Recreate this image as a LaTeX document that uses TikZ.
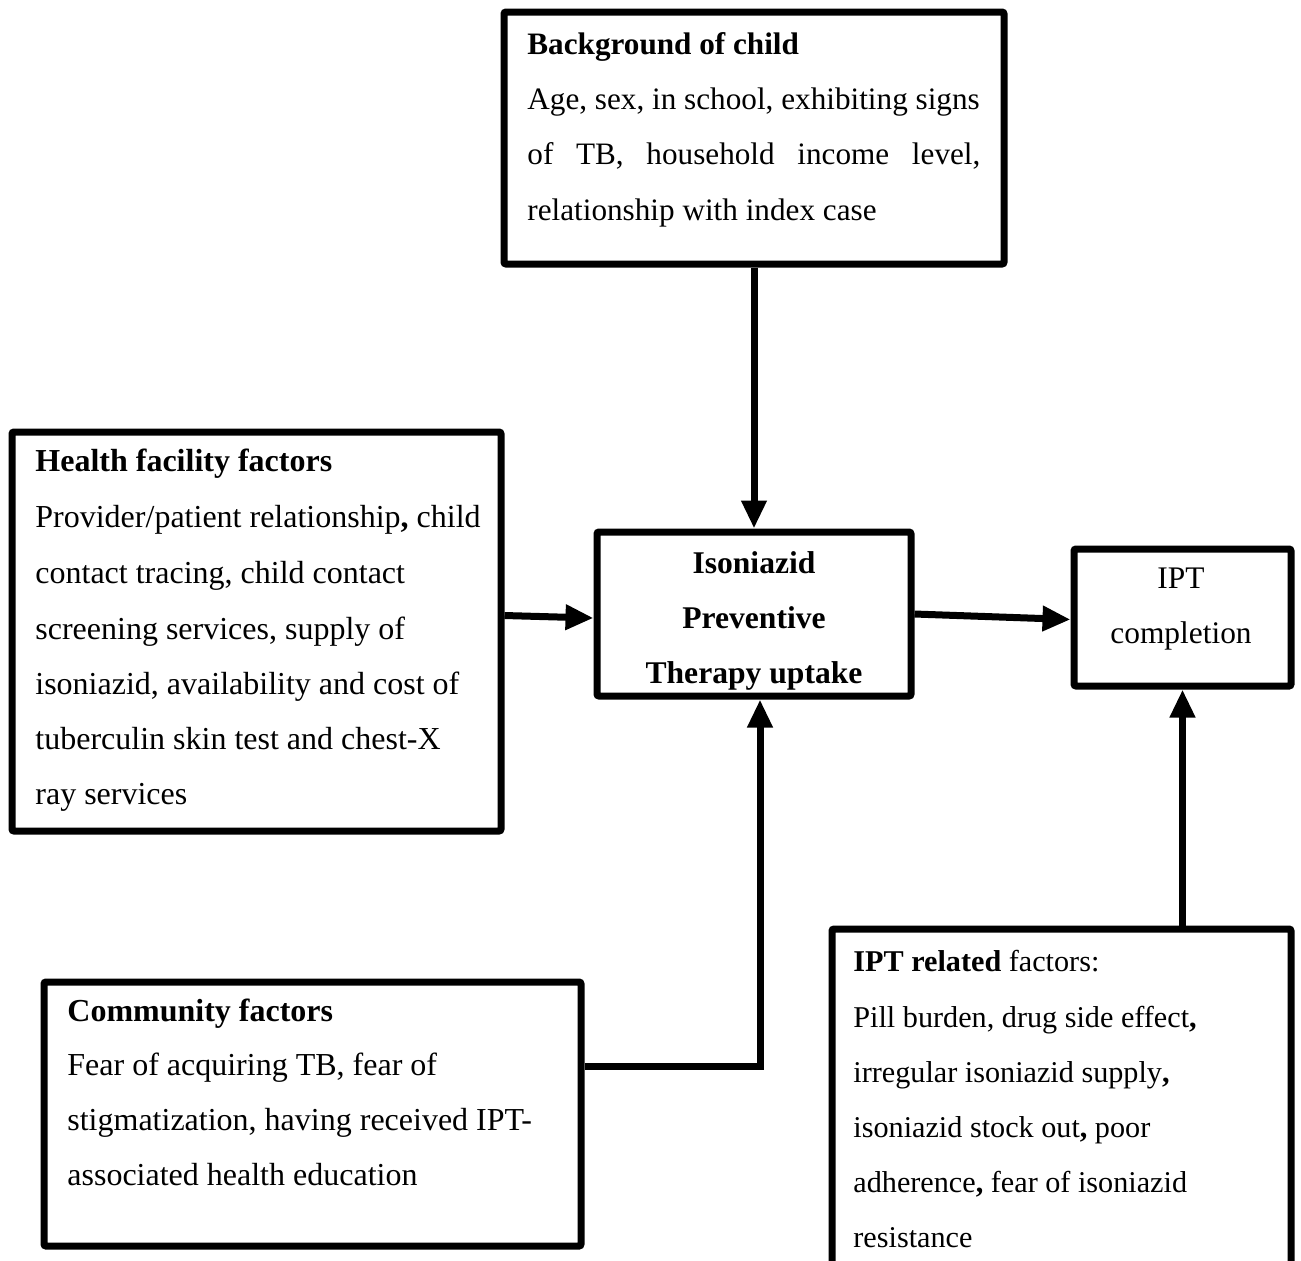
\documentclass[tikz,border=0pt]{standalone}
\usepackage{fontspec}
\setmainfont{Liberation Serif}
\usetikzlibrary{arrows.meta,calc}
\begin{document}
\begin{tikzpicture}[x=0.5pt,y=-0.5pt,
  box/.style={draw=black,line width=3.5pt,rectangle,inner sep=0pt,rounded corners=1pt,fill=white},
  txt/.style={inner sep=0pt,anchor=base west},
  ctxt/.style={inner sep=0pt,anchor=base},
  fbg/.style={font=\fontsize{15.6}{18}\selectfont},
  fhf/.style={font=\fontsize{16}{18}\selectfont},
  fup/.style={font=\fontsize{15.8}{18}\selectfont},
  fco/.style={font=\fontsize{15.7}{18}\selectfont},
  fcm/.style={font=\fontsize{16}{18}\selectfont},
  fir/.style={font=\fontsize{15.1}{18}\selectfont},
  arr/.style={line width=3.5pt,-{Triangle[length=14pt,width=12pt]}}]
\useasboundingbox (0,0) rectangle (1301,1260);
\fill[white] (0,0) rectangle (1301,1260);
% boxes
\node[box,minimum width=250pt,minimum height=126pt] (bg) at (754,138) {};
\node[box,minimum width=244.5pt,minimum height=199.5pt] (hf) at (256.5,631.5) {};
\node[box,minimum width=157pt,minimum height=82pt] (up) at (754,614) {};
\node[box,minimum width=108.5pt,minimum height=68.5pt] (co) at (1182.5,617.5) {};
\node[box,minimum width=268.5pt,minimum height=132pt] (cm) at (312.5,1114) {};
\node[box,minimum width=229.5pt,minimum height=170.5pt] (ir) at (1061.5,1099.5) {};
% background text
\node[txt,fbg] (bg0) at (527,54) {\textbf{Background of child}};
\node[txt,fbg] (bg1) at (527,109) {Age, sex, in school, exhibiting signs};
\node[txt,fbg] (bg2) at (527,164) {\makebox[226.5pt][s]{of TB, household income level,}};
\node[txt,fbg] (bg3) at (527,220) {relationship with index case};
% health facility text
\node[txt,fhf] (hf0) at (35,471) {\textbf{Health facility factors}};
\node[txt,fhf] (hf1) at (35,527) {Provider/patient relationship\textbf{,} child};
\node[txt,fhf] (hf2) at (35,583) {contact tracing, child contact};
\node[txt,fhf] (hf3) at (35,639) {screening services, supply of};
\node[txt,fhf] (hf4) at (35,694) {isoniazid, availability and cost of};
\node[txt,fhf] (hf5) at (35,749) {tuberculin skin test and chest-X};
\node[txt,fhf] (hf6) at (35,804) {ray services};
% uptake text
\node[ctxt,fup] (up0) at (754,573) {\textbf{Isoniazid}};
\node[ctxt,fup] (up1) at (754,628) {\textbf{Preventive}};
\node[ctxt,fup] (up2) at (754,683) {\textbf{Therapy uptake}};
% completion text
\node[ctxt,fco] (co0) at (1181,588) {IPT};
\node[ctxt,fco] (co1) at (1181,643) {completion};
% community text
\node[txt,fcm] (cm0) at (67,1021) {\textbf{Community factors}};
\node[txt,fcm] (cm1) at (67,1075) {Fear of acquiring TB, fear of};
\node[txt,fcm] (cm2) at (67,1130) {stigmatization, having received IPT-};
\node[txt,fcm] (cm3) at (67,1185) {associated health education};
% IPT related text
\node[txt,fir] (ir0) at (853,971) {\textbf{IPT related} factors:};
\node[txt,fir] (ir1) at (853,1027) {Pill burden, drug side effect\textbf{,}};
\node[txt,fir] (ir2) at (853,1082) {irregular isoniazid supply\textbf{,}};
\node[txt,fir] (ir3) at (853,1137) {isoniazid stock out\textbf{,} poor};
\node[txt,fir] (ir4) at (853,1192) {adherence\textbf{,} fear of isoniazid};
\node[txt,fir] (ir5) at (853,1247) {resistance};
% connectors
\draw[arr] (bg.south) -- (up.north);
\draw[arr] ([yshift=8pt]hf.east) -- ([yshift=-2pt]up.west);
\draw[arr] (up.east) -- ([yshift=-1pt]co.west);
\coordinate (cmout) at ([yshift=24pt]cm.east);
\coordinate (upin) at ([xshift=3pt]up.south);
\draw[arr] (cmout) -- (cmout -| upin) -- (upin);
\draw[arr] (ir.north -| co.south) -- (co.south);
\end{tikzpicture}
\end{document}
